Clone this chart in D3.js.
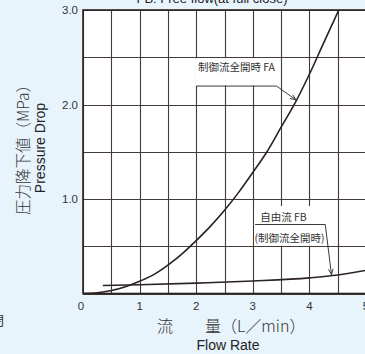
<!DOCTYPE html>
<html><head><meta charset="utf-8">
<script src="https://cdn.jsdelivr.net/npm/d3@7"></script>
<style>
html,body{margin:0;padding:0;background:#e8f4fc;overflow:hidden;}
svg{display:block;}
</style></head>
<body>
<script>
// ---- data ----
const xTicks = [0, 1, 2, 3, 4, 5];
const yTicks = [1.0, 2.0, 3.0];
const xGrid = [0, 0.5, 1, 1.5, 2, 2.5, 3, 3.5, 4, 4.5, 5];
const yGrid = [0, 0.5, 1, 1.5, 2, 2.5, 3];
// FA: 制御流全開時
const faFlow = [0, 0.25, 0.5, 0.75, 1.0, 1.25, 1.5, 1.75, 2.0, 2.25, 2.5, 2.75, 3.0, 3.25, 3.5, 3.75, 4.0, 4.25, 4.52];
const faDrop = [0, 0.008, 0.031, 0.071, 0.13, 0.2, 0.3, 0.42, 0.56, 0.71, 0.88, 1.07, 1.28, 1.5, 1.76, 2.02, 2.32, 2.65, 3.0];
// FB: 自由流 (制御流全開時)
const fbFlow = [0.35, 1, 2, 3, 4, 4.5, 5];
const fbDrop = [0.085, 0.092, 0.11, 0.132, 0.165, 0.195, 0.245];
const titleText = "FB: Free flow(at full close)";
const yTitleJa = "圧力降下値（MPa）";
const yTitleEn = "Pressure Drop";
const xTitleJa = "流　　量（L／min）";
const xTitleEn = "Flow Rate";
const faLabel = "制御流全開時 FA";
const fbLabel1 = "自由流 FB";
const fbLabel2 = "(制御流全開時)";

const W = 365, H = 354;
const svg = d3.select("body").append("svg").attr("width", W).attr("height", H);
svg.append("rect").attr("width", W).attr("height", H).attr("fill", "#e8f4fc");

const x = d3.scaleLinear([0, 5], [83, 366]);
const y = d3.scaleLinear([0, 3], [293.5, 10]);

const latin = "'Liberation Sans', Arial, 'DejaVu Sans', sans-serif";
const cjk = "'Noto Sans CJK JP', 'Noto Sans CJK SC', sans-serif";
const ink = "#2b2222";

// plot background
svg.append("rect").attr("x", x(0)).attr("y", y(3)).attr("width", x(5) - x(0)).attr("height", y(0) - y(3)).attr("fill", "#fff");

// grid
const g = svg.append("g").attr("stroke", "#443a3a").attr("stroke-width", 1.1);
g.selectAll(".vx").data(xGrid).join("line")
  .attr("x1", d => Math.round(x(d)) + 0.5).attr("x2", d => Math.round(x(d)) + 0.5)
  .attr("y1", y(3)).attr("y2", y(0));
g.selectAll(".hy").data(yGrid).join("line")
  .attr("y1", d => Math.round(y(d)) + 0.5).attr("y2", d => Math.round(y(d)) + 0.5)
  .attr("x1", x(0)).attr("x2", x(5));

// label white boxes (interrupt grid)
svg.append("rect").attr("x", x(1.995)).attr("y", y(2.49)).attr("width", x(3.45) - x(1.995)).attr("height", y(2.2) - y(2.49)).attr("fill", "#fff");
svg.append("rect").attr("x", x(3.03)).attr("y", y(0.925)).attr("width", x(4.3) - x(3.03)).attr("height", y(0.505) - y(0.925)).attr("fill", "#fff");

// curves
const line = d3.line().x(d => x(d[0])).y(d => y(d[1])).curve(d3.curveMonotoneX);
svg.append("path").datum(faFlow.map((f, i) => [f, faDrop[i]]))
  .attr("d", line).attr("fill", "none").attr("stroke", ink).attr("stroke-width", 1.6);
svg.append("path").datum(fbFlow.map((f, i) => [f, fbDrop[i]]))
  .attr("d", line).attr("fill", "none").attr("stroke", ink).attr("stroke-width", 1.6);

// border
svg.append("rect").attr("x", x(0)).attr("y", y(3)).attr("width", x(5) - x(0)).attr("height", y(0) - y(3))
  .attr("fill", "none").attr("stroke", ink).attr("stroke-width", 1.6);

// axes tick labels
svg.append("g").selectAll("text").data(xTicks).join("text")
  .attr("x", d => x(d) - (d === 0 ? 2 : 0)).attr("y", 310)
  .attr("text-anchor", "middle").attr("font-family", latin).attr("font-size", 11.5).attr("fill", "#333")
  .text(d => d);
svg.append("g").selectAll("text").data(yTicks).join("text")
  .attr("x", 78).attr("y", d => y(d) + 4)
  .attr("text-anchor", "end").attr("font-family", latin).attr("font-size", 11.5).attr("fill", "#333")
  .text(d => d.toFixed(1));

// title (clipped at top, as in the reference)
svg.append("text").attr("x", 212).attr("y", 3).attr("text-anchor", "middle")
  .attr("font-family", latin).attr("font-size", 13).attr("fill", "#222").text(titleText);

// y titles
svg.append("text").attr("transform", "translate(29,146) rotate(-90)").attr("text-anchor", "middle")
  .attr("font-family", cjk).attr("font-size", 15.5).attr("font-weight", 300).attr("fill", "#333").text(yTitleJa);
svg.append("text").attr("transform", "translate(45,148) rotate(-90)").attr("text-anchor", "middle")
  .attr("font-family", latin).attr("font-size", 14).attr("fill", "#222").text(yTitleEn);

// x titles
svg.append("text").attr("x", 157).attr("y", 332)
  .attr("font-family", cjk).attr("font-size", 16).attr("font-weight", 300).attr("fill", "#333").text(xTitleJa);
svg.append("text").attr("x", 228).attr("y", 350).attr("text-anchor", "middle")
  .attr("font-family", latin).attr("font-size", 14).attr("fill", "#222").text(xTitleEn);

// clipped char at bottom-left (as in the reference)
svg.append("text").attr("x", 4).attr("y", 325).attr("text-anchor", "end")
  .attr("font-family", cjk).attr("font-size", 13).attr("fill", "#333").text("閉");

// annotations
function arrow(x1, y1, x2, y2) {
  const a = svg.append("g").attr("stroke", ink).attr("stroke-width", 0.9).attr("fill", "none");
  a.append("line").attr("x1", x1).attr("y1", y1).attr("x2", x2).attr("y2", y2);
  const ang = Math.atan2(y2 - y1, x2 - x1), L = 6, s = 0.4;
  a.append("path").attr("d", `M${x2 - L * Math.cos(ang - s)},${y2 - L * Math.sin(ang - s)}L${x2},${y2}L${x2 - L * Math.cos(ang + s)},${y2 - L * Math.sin(ang + s)}`);
}
// FA
svg.append("text").attr("x", x(2.03)).attr("y", y(2.35)).attr("font-family", cjk).attr("font-size", 10.5).attr("fill", "#333").text(faLabel);
svg.append("line").attr("x1", x(2.01)).attr("x2", x(3.42)).attr("y1", y(2.195)).attr("y2", y(2.195)).attr("stroke", ink).attr("stroke-width", 0.9);
arrow(x(3.42), y(2.195), x(3.76), y(2.05));
// FB
svg.append("text").attr("x", x(3.13)).attr("y", y(0.767)).attr("font-family", cjk).attr("font-size", 10.5).attr("fill", "#333").text(fbLabel1);
svg.append("line").attr("x1", x(3.04)).attr("x2", x(4.28)).attr("y1", y(0.73)).attr("y2", y(0.73)).attr("stroke", ink).attr("stroke-width", 0.9);
svg.append("text").attr("x", x(3.03)).attr("y", y(0.545)).attr("font-family", cjk).attr("font-size", 10.5).attr("fill", "#333").text(fbLabel2);
arrow(x(4.28), y(0.73), x(4.39), y(0.2));
</script>
</body></html>
